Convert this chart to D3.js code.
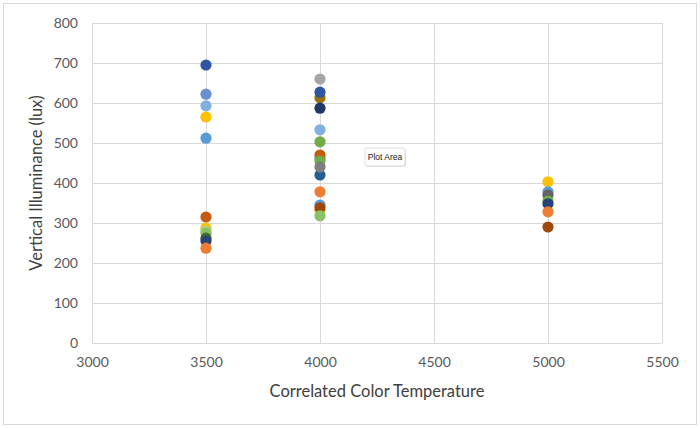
<!DOCTYPE html>
<html>
<head>
<meta charset="utf-8">
<script src="https://cdn.jsdelivr.net/npm/d3@7/dist/d3.min.js"></script>
<style>
  html, body { margin: 0; padding: 0; background: #fff; }
  svg { display: block; font-family: Lato, "Open Sans", sans-serif; }
</style>
</head>
<body>
<svg id="chart" width="700" height="428"></svg>
<script>
// ---- data ----
const cct = [
  3500, 3500, 3500, 3500, 3500, 3500, 3500, 3500, 3500, 3500, 3500, 3500,
  4000, 4000, 4000, 4000, 4000, 4000, 4000, 4000, 4000, 4000, 4000, 4000, 4000, 4000, 4000, 4000,
  5000, 5000, 5000, 5000, 5000, 5000, 5000
];
const illuminance = [
  695, 622, 593, 565, 512, 315, 287, 280, 275, 262, 255, 237,
  660, 613, 627, 587, 533, 503, 462, 470, 455, 420, 440, 378, 345, 332, 338, 318,
  403, 378, 370, 355, 348, 328, 290
];
const seriesIndex = [
  0, 1, 2, 3, 4, 5, 3, 6, 7, 8, 9, 10,
  11, 12, 0, 13, 2, 14, 4, 5, 14, 16, 15, 10, 4, 3, 17, 7,
  3, 4, 18, 14, 9, 10, 17
];
const xTicks = [3000, 3500, 4000, 4500, 5000, 5500];
const yTicks = [0, 100, 200, 300, 400, 500, 600, 700, 800];
const xTitle = "Correlated Color Temperature";
const yTitle = "Vertical Illuminance (lux)";

// ---- style ----
const palette = [
  "#2f55a4", "#6a8fd2", "#7fb0de", "#ffc000", "#5b9bd5", "#c55a11",
  "#a9d18e", "#8cc168", "#43682b", "#264478", "#ed7d31", "#a5a5a5",
  "#997300", "#203864", "#70ad47", "#7f7f7f", "#255e91", "#9e480e", "#636363"
];

const svg = d3.select("#chart");
const W = 700, H = 428;
const m = { left: 92, right: 38, top: 23, bottom: 85 };

svg.append("rect")
  .attr("x", 3.5).attr("y", 3.5)
  .attr("width", W - 7).attr("height", H - 7)
  .attr("fill", "#fff").attr("stroke", "#d9d9d9");

const x = d3.scaleLinear().domain([3000, 5500]).range([m.left, W - m.right]);
const y = d3.scaleLinear().domain([0, 800]).range([H - m.bottom, m.top]);

// gridlines
const grid = svg.append("g");
grid.selectAll("line.h").data(yTicks).join("line")
  .attr("x1", m.left).attr("x2", W - m.right)
  .attr("y1", d => Math.round(y(d)) + 0.5).attr("y2", d => Math.round(y(d)) + 0.5)
  .attr("stroke", "#d9d9d9").attr("stroke-width", 1);
grid.selectAll("line.v").data(xTicks).join("line")
  .attr("y1", m.top).attr("y2", H - m.bottom)
  .attr("x1", d => Math.round(x(d)) + 0.5).attr("x2", d => Math.round(x(d)) + 0.5)
  .attr("stroke", "#d9d9d9").attr("stroke-width", 1);

// axes (labels only)
const xAxis = svg.append("g")
  .attr("transform", `translate(0,${H - m.bottom})`)
  .call(d3.axisBottom(x).tickValues(xTicks).tickSize(0).tickPadding(14).tickFormat(d3.format("d")));
const yAxis = svg.append("g")
  .attr("transform", `translate(${m.left},0)`)
  .call(d3.axisLeft(y).tickValues(yTicks).tickSize(0).tickPadding(14).tickFormat(d3.format("d")));
[xAxis, yAxis].forEach(a => {
  a.select(".domain").remove();
  a.selectAll("text").attr("fill", "#595959").style("font-size", "14px")
    .style("font-family", "Lato, 'Open Sans', sans-serif");
});

// axis titles
svg.append("text")
  .attr("x", 377).attr("y", 397)
  .attr("text-anchor", "middle").attr("fill", "#404040")
  .style("font-size", "16.5px").text(xTitle);
svg.append("text")
  .attr("transform", `translate(42,${(m.top + H - m.bottom) / 2}) rotate(-90)`)
  .attr("text-anchor", "middle").attr("fill", "#404040")
  .style("font-size", "16.5px").text(yTitle);

// points
const pts = cct.map((c, i) => ({ c, v: illuminance[i], s: seriesIndex[i] }));
svg.append("g").selectAll("circle").data(pts).join("circle")
  .attr("cx", d => x(d.c)).attr("cy", d => y(d.v))
  .attr("r", 5.6)
  .attr("fill", d => palette[d.s]);

// "Plot Area" hover tag
const tag = svg.append("g").attr("transform", "translate(365,148)");
tag.append("rect").attr("x", 1).attr("y", 1).attr("width", 40).attr("height", 18)
  .attr("rx", 2).attr("fill", "#e6e6e6");
tag.append("rect").attr("width", 40).attr("height", 18).attr("rx", 2)
  .attr("fill", "#fdfdfd").attr("stroke", "#cfcfcf").attr("stroke-width", 0.6);
tag.append("text").attr("x", 20).attr("y", 12.3).attr("text-anchor", "middle")
  .attr("fill", "#222").style("font-size", "8.5px")
  .style("font-family", "'Liberation Sans', Arial, sans-serif").text("Plot Area");
</script>
</body>
</html>
